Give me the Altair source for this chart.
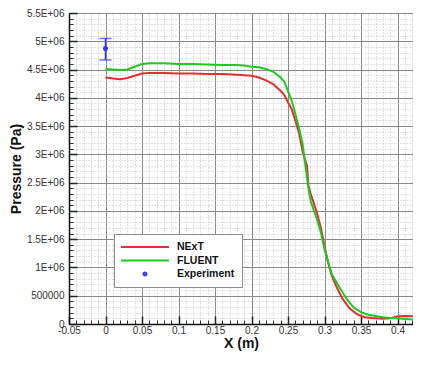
import altair as alt
import pandas as pd
import numpy as np

# ---------------- data ----------------
series_names = ["NExT", "FLUENT", "Experiment"]
series_colors = ["#e23030", "#1fc81f", "#3434ff"]
# legend / marker glyphs (SVG paths): a line for the curves, a dot for the data
series_shapes = ["M-4.8,0H4.8", "M-4.8,0H4.8",
                 "M-0.3,0A0.3,0.3,0,1,0,0.3,0A0.3,0.3,0,1,0,-0.3,0Z"]

next_x = [0.0, 0.01, 0.02, 0.03, 0.04, 0.05, 0.06, 0.08, 0.10, 0.12, 0.14, 0.16, 0.18,
          0.20, 0.21, 0.22, 0.23, 0.24, 0.245, 0.25, 0.255, 0.26, 0.265, 0.27, 0.273,
          0.276, 0.278, 0.281, 0.285, 0.29, 0.295, 0.30, 0.305, 0.31, 0.317, 0.325,
          0.335, 0.345, 0.355, 0.365, 0.38, 0.39, 0.40, 0.41, 0.421]
next_p = [4.36e6, 4.34e6, 4.33e6, 4.35e6, 4.39e6, 4.43e6, 4.44e6, 4.44e6, 4.43e6, 4.43e6,
          4.42e6, 4.42e6, 4.41e6, 4.39e6, 4.36e6, 4.31e6, 4.24e6, 4.12e6, 4.05e6, 3.92e6,
          3.80e6, 3.60e6, 3.38e6, 3.05e6, 2.92e6, 2.80e6, 2.45e6, 2.30e6, 2.15e6, 1.95e6,
          1.70e6, 1.38e6, 1.08e6, 0.85e6, 0.64e6, 0.44e6, 0.27e6, 0.17e6, 0.12e6, 0.105e6,
          0.095e6, 0.10e6, 0.135e6, 0.14e6, 0.135e6]

fluent_x = [0.0, 0.01, 0.02, 0.03, 0.04, 0.05, 0.06, 0.08, 0.10, 0.12, 0.14, 0.16, 0.18,
            0.19, 0.20, 0.21, 0.22, 0.23, 0.24, 0.245, 0.25, 0.255, 0.26, 0.265, 0.27,
            0.274, 0.278, 0.281, 0.285, 0.29, 0.295, 0.30, 0.305, 0.31, 0.32, 0.33, 0.34,
            0.35, 0.36, 0.37, 0.38, 0.39, 0.40, 0.41, 0.421]
fluent_p = [4.51e6, 4.50e6, 4.49e6, 4.50e6, 4.55e6, 4.60e6, 4.61e6, 4.61e6, 4.60e6, 4.60e6,
            4.59e6, 4.58e6, 4.58e6, 4.57e6, 4.55e6, 4.54e6, 4.51e6, 4.46e6, 4.36e6, 4.28e6,
            4.12e6, 3.95e6, 3.72e6, 3.47e6, 3.18e6, 2.78e6, 2.40e6, 2.18e6, 2.02e6, 1.84e6,
            1.62e6, 1.32e6, 1.10e6, 0.88e6, 0.66e6, 0.45e6, 0.29e6, 0.21e6, 0.165e6, 0.14e6,
            0.12e6, 0.105e6, 0.10e6, 0.09e6, 0.08e6]

exp_x = [0.0]
exp_p = [4.87e6]
exp_lo = [4.67e6]
exp_hi = [5.05e6]

x_major = [-0.05, 0, 0.05, 0.1, 0.15, 0.2, 0.25, 0.3, 0.35, 0.4]
y_major = [0, 5e5, 1e6, 1.5e6, 2e6, 2.5e6, 3e6, 3.5e6, 4e6, 4.5e6, 5e6, 5.5e6]
x_minor = [round(v, 2) for v in np.arange(-0.05, 0.4215, 0.01)]
y_minor = [i * 1e5 for i in range(0, 56)]

# ---------------- tables ----------------
lines_df = pd.concat([
    pd.DataFrame({"x": next_x, "p": next_p, "series": "NExT"}),
    pd.DataFrame({"x": fluent_x, "p": fluent_p, "series": "FLUENT"}),
])
exp_df = pd.DataFrame({"x": exp_x, "p": exp_p, "lo": exp_lo, "hi": exp_hi,
                       "series": "Experiment"})

W, H = 344, 311
FONT = "Liberation Sans"

xs = alt.Scale(domain=[-0.05, 0.4212], nice=False, zero=False)
ys = alt.Scale(domain=[0, 5.5e6], nice=False, zero=False)
cs = alt.Scale(domain=series_names, range=series_colors)
ss = alt.Scale(domain=series_names, range=series_shapes)

minor_x = alt.Axis(orient="top", offset=-H, values=x_minor, grid=True, gridColor="#c4c4c4",
                   gridDash=[1, 2], gridWidth=1, ticks=True, tickSize=4, tickColor="#333",
                   tickWidth=1, labels=False, domain=False, title=None)
minor_y = alt.Axis(orient="right", offset=-W, values=y_minor, grid=True, gridColor="#c4c4c4",
                   gridDash=[1, 2], gridWidth=1, ticks=True, tickSize=4, tickColor="#333",
                   tickWidth=1, labels=False, domain=False, title=None)
major_x = alt.Axis(orient="top", offset=-H, values=x_major, grid=True, gridColor="#8a8a8a",
                   gridWidth=1, ticks=True, tickSize=8, tickColor="#222", tickWidth=1.5,
                   labels=False, domain=False, title=None)
major_y = alt.Axis(orient="right", offset=-W, values=y_major, grid=True, gridColor="#8a8a8a",
                   gridWidth=1, ticks=True, tickSize=8, tickColor="#222", tickWidth=1.5,
                   labels=False, domain=False, title=None)
label_x = alt.Axis(orient="bottom", values=x_major, grid=False, ticks=False,
                   labelExpr="datum.value < 0 ? '-' + format(-datum.value, '~g') : format(datum.value, '~g')",
                   labelFlush=False, labelOverlap=False, labelPadding=1, labelFont=FONT,
                   labelFontSize=10, labelColor="#333", domain=True, domainColor="#111",
                   domainWidth=1.5, title="X (m)", titleFont=FONT, titleFontSize=14,
                   titleFontWeight="bold", titleColor="#111", titlePadding=1)
label_y = alt.Axis(orient="left", values=y_major, grid=False, ticks=False,
                   labelExpr="datum.value == 0 ? '0' : (datum.value < 1e6 ? format(datum.value, 'd') : format(datum.value / 1e6, '~g') + 'E+06')",
                   labelFlush=False, labelOverlap=False, labelPadding=5, labelFont=FONT,
                   labelFontSize=10, labelColor="#333", domain=True, domainColor="#111",
                   domainWidth=1.5, title="Pressure (Pa)", titleFont=FONT, titleFontSize=14,
                   titleFontWeight="bold", titleColor="#111", titlePadding=3)

legend = alt.Legend(
    title=None, orient="none", legendX=45, legendY=221, fillColor="white",
    strokeColor="#8c8c8c", padding=7, symbolSize=100, symbolStrokeWidth=2,
    symbolOffset=18, labelOffset=26, rowPadding=1.5, labelFont=FONT,
    labelFontWeight="bold", labelFontSize=10.5, labelColor="#111",
)

# experiment point first: it carries the (single, merged) legend
point = alt.Chart(exp_df).mark_point(filled=False, size=100, strokeWidth=2, opacity=1).encode(
    x=alt.X("x:Q", scale=xs, axis=None),
    y=alt.Y("p:Q", scale=ys, axis=None),
    color=alt.Color("series:N", scale=cs, legend=legend),
    shape=alt.Shape("series:N", scale=ss, legend=legend),
)

lines = alt.Chart(lines_df).mark_line(strokeWidth=2).encode(
    x=alt.X("x:Q", scale=xs, axis=minor_x),
    y=alt.Y("p:Q", scale=ys, axis=minor_y),
    color=alt.Color("series:N", scale=cs, legend=None),
    detail="series:N",
)

err_rule = alt.Chart(exp_df).mark_rule(color=series_colors[2], strokeWidth=1.5).encode(
    x=alt.X("x:Q", scale=xs, axis=major_x),
    y=alt.Y("lo:Q", scale=ys, axis=major_y),
    y2="hi:Q",
)

caps = alt.Chart(exp_df).transform_fold(["lo", "hi"], as_=["k", "v"]).mark_tick(
    orient="horizontal", size=12, thickness=1.5, color=series_colors[2]
).encode(
    x=alt.X("x:Q", scale=xs, axis=label_x),
    y=alt.Y("v:Q", scale=ys, axis=label_y),
)

chart = alt.layer(point, lines, err_rule, caps).resolve_axis(
    x="independent", y="independent"
).properties(
    width=W, height=H, autosize=alt.AutoSizeParams(type="none"),
    padding={"left": 61, "top": 5, "right": 0, "bottom": 29},
    background="white",
).configure_view(stroke="black", strokeWidth=1)

chart.save("out.html", embed_options={"renderer": "svg", "actions": False})
